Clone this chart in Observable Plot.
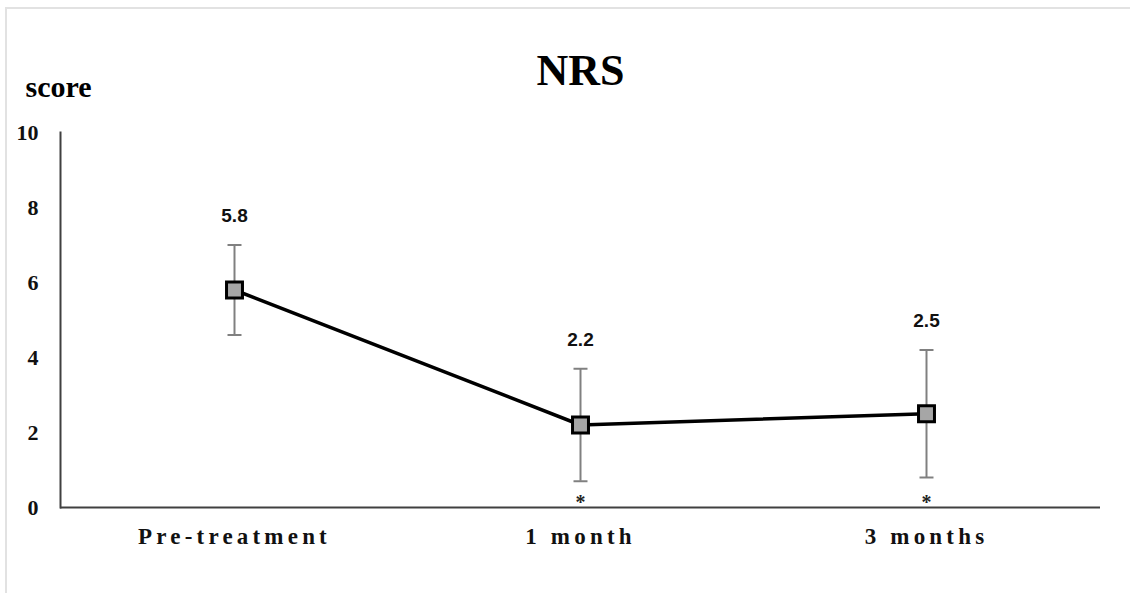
<!DOCTYPE html>
<html>
<head>
<meta charset="utf-8">
<script src="https://cdn.jsdelivr.net/npm/d3@7"></script>
<script src="https://cdn.jsdelivr.net/npm/@observablehq/plot@0.6"></script>
<style>
  html, body { margin: 0; padding: 0; background: #fff; }
  #wrap { position: relative; width: 1130px; height: 593px; overflow: hidden; }
  #border { position: absolute; left: 5px; top: 7px; width: 1200px; height: 700px;
            border-left: 2px solid #e2e2e2; border-top: 2px solid #e2e2e2; }
  #chart { position: absolute; left: 0; top: 0; }
  g[aria-label="x-axis tick label"] text { letter-spacing: 4.2px; }
</style>
</head>
<body>
<div id="wrap"><div id="border"></div><div id="chart"></div></div>
<script>
const categories = ["Pre-treatment", "1 month", "3 months"];
const means = [5.8, 2.2, 2.5];
const errHigh = [7.0, 3.7, 4.2];
const errLow = [4.6, 0.7, 0.8];
const significant = [false, true, true];
const yTicks = [0, 2, 4, 6, 8, 10];
const title = "NRS";
const yLabel = "score";

const data = categories.map((c, i) => ({
  cat: c, mean: means[i], hi: errHigh[i], lo: errLow[i], sig: significant[i]
}));

const hline = {
  draw(context, size) {
    const r = Math.sqrt(size / Math.PI);
    context.moveTo(-r, 0);
    context.lineTo(r, 0);
  }
};

const serif = "'Liberation Serif', 'Times New Roman', serif";
const sans = "'Liberation Sans', Arial, sans-serif";

const chart = Plot.plot({
  width: 1130,
  height: 593,
  marginTop: 132,
  marginBottom: 86,
  marginLeft: 60,
  marginRight: 30,
  style: { background: "transparent", overflow: "visible" },
  x: { type: "point", domain: categories, padding: 0.5, label: null },
  y: { domain: [0, 10], label: null },
  marks: [
    Plot.axisY({ ticks: yTicks, tickSize: 0, tickPadding: 22, fontSize: 22, fontWeight: "bold", fontFamily: serif, fill: "#111", label: null }),
    Plot.axisX({ tickSize: 0, tickPadding: 20, fontSize: 23, fontWeight: "bold", fontFamily: serif, fill: "#111", label: null }),
    Plot.frame({ anchor: "left", stroke: "#404040", strokeWidth: 2 }),
    Plot.ruleY([0], { stroke: "#404040", strokeWidth: 2 }),
    Plot.ruleX(data, { x: "cat", y1: "lo", y2: "hi", stroke: "#808080", strokeWidth: 2 }),
    Plot.dot(data, { x: "cat", y: "hi", symbol: hline, r: 7, stroke: "#808080", strokeWidth: 2, fill: "none" }),
    Plot.dot(data, { x: "cat", y: "lo", symbol: hline, r: 7, stroke: "#808080", strokeWidth: 2, fill: "none" }),
    Plot.line(data, { x: "cat", y: "mean", stroke: "#000", strokeWidth: 3.5 }),
    Plot.dot(data, { x: "cat", y: "mean", symbol: "square", r: 9, fill: "#a6a6a6", stroke: "#000", strokeWidth: 3 }),
    Plot.text(data, { x: "cat", y: "hi", text: d => d.mean.toFixed(1), dy: -29, fontSize: 19, fontWeight: "bold", fontFamily: sans, fill: "#111" }),
    Plot.text(data.filter(d => d.sig), { x: "cat", text: () => "*", frameAnchor: "bottom", lineAnchor: "middle", dy: -5, fontSize: 20, fontWeight: "bold", fontFamily: serif, fill: "#222" }),
    Plot.text([title], { frameAnchor: "top", lineAnchor: "middle", dy: -62, fontSize: 44, fontWeight: "bold", fontFamily: serif, fill: "#000", style: "letter-spacing:4px" }),
    Plot.text([yLabel], { frameAnchor: "top-left", lineAnchor: "middle", dx: -35, dy: -45, textAnchor: "start", fontSize: 30, fontWeight: "bold", fontFamily: serif, fill: "#000" })
  ]
});
document.getElementById("chart").appendChild(chart);
</script>
</body>
</html>
